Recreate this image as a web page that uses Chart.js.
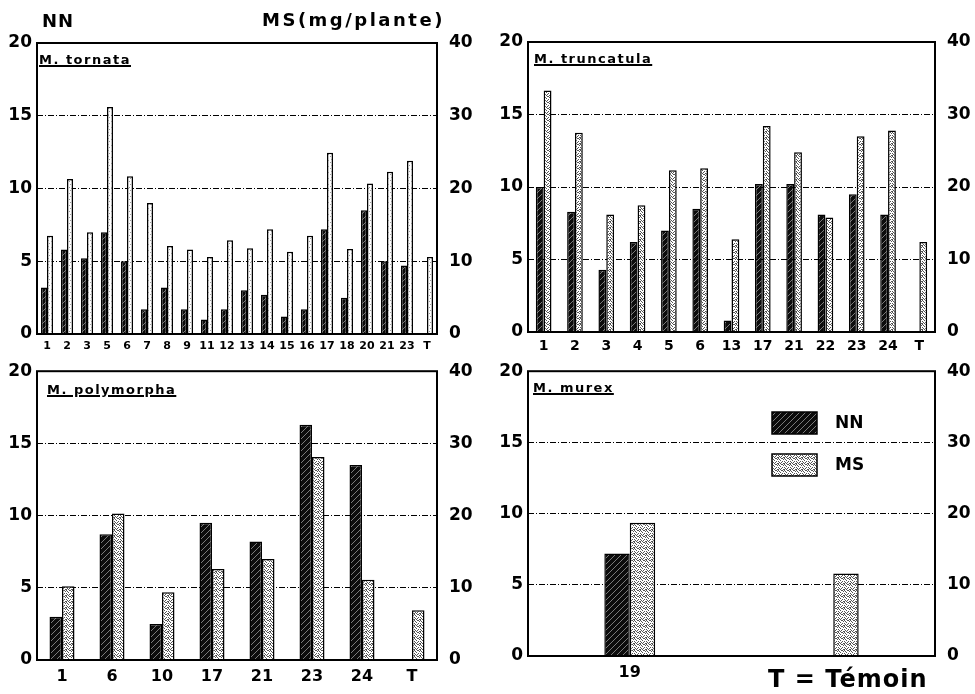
<!DOCTYPE html>
<html>
<head>
<meta charset="utf-8">
<script src="https://cdn.jsdelivr.net/npm/chart.js@4.4.0/dist/chart.umd.min.js"></script>
<style>
  body { margin: 0; background: #fff; width: 975px; height: 694px; position: relative; overflow: hidden; font-family: "DejaVu Sans", sans-serif; }
  canvas { position: absolute; }
  .txt { position: absolute; font-weight: bold; color: #000; white-space: nowrap; line-height: 1; }
  .sp { font-size: 13px; text-decoration: underline; letter-spacing: 1.5px; text-decoration-thickness: 2px; }
</style>
</head>
<body>
<canvas id="tornataChart" width="480" height="362" style="left:0;top:0"></canvas>
<canvas id="truncatulaChart" width="485" height="362" style="left:490px;top:0"></canvas>
<canvas id="polymorphaChart" width="480" height="338" style="left:0;top:356px"></canvas>
<canvas id="murexChart" width="485" height="338" style="left:490px;top:356px"></canvas>

<div class="txt" style="left:42px;top:12px;font-size:18px;letter-spacing:1px">NN</div>
<div class="txt" style="left:262px;top:11px;font-size:18px;letter-spacing:2.5px">MS(mg/plante)</div>
<div class="txt sp" style="left:39px;top:53px">M. tornata</div>
<div class="txt sp" style="left:534px;top:52px">M. truncatula</div>
<div class="txt sp" style="left:47px;top:383px">M. polymorpha</div>
<div class="txt sp" style="left:533px;top:381px">M. murex</div>
<div class="txt" style="left:768px;top:667px;font-size:24px;letter-spacing:1px">T = Témoin</div>

<script>
// NN on the left axis (0-20), MS in mg/plante on the right axis (0-40)
const tornataLabels = ['1', '2', '3', '5', '6', '7', '8', '9', '11', '12', '13', '14', '15', '16', '17', '18', '20', '21', '23', 'T'];
const tornataNN = [3.2, 5.8, 5.2, 7.0, 5.0, 1.7, 3.2, 1.7, 1.0, 1.7, 3.0, 2.7, 1.2, 1.7, 7.2, 2.5, 8.5, 5.0, 4.7, null];
const tornataMS = [13.5, 21.3, 14.0, 31.2, 21.7, 18.0, 12.1, 11.6, 10.6, 12.9, 11.8, 14.4, 11.3, 13.5, 24.9, 11.7, 20.7, 22.3, 23.8, 10.6];

const truncatulaLabels = ['1', '2', '3', '4', '5', '6', '13', '17', '21', '22', '23', '24', 'T'];
const truncatulaNN = [10.0, 8.3, 4.3, 6.2, 7.0, 8.5, 0.8, 10.2, 10.2, 8.1, 9.5, 8.1, null];
const truncatulaMS = [33.3, 27.5, 16.2, 17.5, 22.3, 22.6, 12.8, 28.4, 24.8, 15.8, 27.0, 27.8, 12.4];

const polymorphaLabels = ['1', '6', '10', '17', '21', '23', '24', 'T'];
const polymorphaNN = [3.0, 8.7, 2.5, 9.5, 8.2, 16.3, 13.5, null];
const polymorphaMS = [10.2, 20.3, 9.4, 12.6, 14.0, 28.1, 11.1, 6.9];

const murexLabels = ['19', 'T'];
const murexNN = [7.2, null];
const murexMS = [18.7, 11.6];

const FONT = '"DejaVu Sans", sans-serif';

function hatchPattern() {
    const c = document.createElement('canvas');
    c.width = 6; c.height = 6;
    const g = c.getContext('2d');
    g.fillStyle = '#0c0c0c';
    g.fillRect(0, 0, 6, 6);
    g.strokeStyle = '#7a7a7a';
    g.lineWidth = 1;
    g.beginPath();
    g.moveTo(0, 6); g.lineTo(6, 0);
    g.moveTo(-3, 3); g.lineTo(3, -3);
    g.moveTo(3, 9); g.lineTo(9, 3);
    g.stroke();
    return g.createPattern(c, 'repeat');
}

// stipple: scattered grey dots on white
function dotPattern(size, dot, spots) {
    const c = document.createElement('canvas');
    c.width = size; c.height = size;
    const g = c.getContext('2d');
    g.fillStyle = '#fff';
    g.fillRect(0, 0, size, size);
    g.fillStyle = dot;
    spots.forEach(p => g.fillRect(p[0], p[1], 1, 1));
    return g.createPattern(c, 'repeat');
}

const nnFill = hatchPattern();
const msFill = dotPattern(6, '#555', [[0, 0], [3, 0], [4, 0], [1, 1], [5, 1], [2, 2], [0, 3], [4, 3], [1, 4], [3, 4], [2, 5], [5, 5], [0, 5]]);
const msFillLight = dotPattern(6, '#9a9a9a', [[0, 0], [3, 1], [1, 3], [4, 4]]);

// frame around the plot area
const framePlugin = {
    id: 'frame',
    afterDraw(chart) {
        const a = chart.chartArea;
        const ctx = chart.ctx;
        ctx.save();
        ctx.strokeStyle = '#000';
        ctx.lineWidth = 2;
        ctx.strokeRect(a.left, a.top, a.right - a.left, a.bottom - a.top);
        ctx.restore();
    }
};

// legend boxes drawn inside the M. murex panel
const boxLegendPlugin = {
    id: 'boxLegend',
    afterDraw(chart) {
        if (!chart.options.plugins.boxLegend || !chart.options.plugins.boxLegend.show) return;
        const ctx = chart.ctx;
        const items = [['NN', nnFill, 56], ['MS', msFill, 98]];
        ctx.save();
        items.forEach(([name, fill, y]) => {
            ctx.fillStyle = fill;
            ctx.fillRect(282, y, 45, 22);
            ctx.strokeStyle = '#000';
            ctx.lineWidth = 1.5;
            ctx.strokeRect(282, y, 45, 22);
            ctx.fillStyle = '#000';
            ctx.font = 'bold 17px ' + FONT;
            ctx.textBaseline = 'middle';
            ctx.fillText(name, 345, y + 12);
        });
        ctx.restore();
    }
};

function makeChart(id, labels, nn, ms, cfg) {
    const el = document.getElementById(id);
    return new Chart(el, {
        type: 'bar',
        data: {
            labels: labels,
            datasets: [{
                label: 'NN',
                data: nn,
                yAxisID: 'y',
                backgroundColor: nnFill,
                borderColor: '#000',
                borderWidth: 1.5,
                categoryPercentage: cfg.catPct,
                barPercentage: 1.0
            }, {
                label: 'MS',
                data: ms,
                yAxisID: 'y1',
                backgroundColor: cfg.msFill || msFill,
                borderColor: '#000',
                borderWidth: 1.5,
                categoryPercentage: cfg.catPct,
                barPercentage: 1.0
            }]
        },
        options: {
            responsive: false,
            animation: false,
            devicePixelRatio: 1,
            layout: { padding: { top: cfg.top, left: 0, right: 0, bottom: 0 } },
            plugins: {
                legend: { display: false },
                tooltip: { enabled: false },
                boxLegend: { show: !!cfg.legend }
            },
            scales: {
                x: {
                    grid: { display: false, drawTicks: false },
                    border: { display: false },
                    ticks: {
                        color: '#000',
                        autoSkip: false,
                        maxRotation: 0,
                        padding: cfg.xPad,
                        font: { family: FONT, size: cfg.xSize, weight: 'bold' },
                        callback: (v, i) => (cfg.hideT && labels[i] === 'T') ? '' : labels[i]
                    },
                    afterFit: s => { s.height = cfg.xHeight; }
                },
                y: {
                    position: 'left',
                    min: 0, max: 20,
                    grid: {
                        drawTicks: false,
                        color: c => (c.tick.value === 0 || c.tick.value === 20) ? 'rgba(0,0,0,0)' : '#000',
                        lineWidth: 1
                    },
                    border: { display: false, dash: [6, 2, 1, 2] },
                    ticks: {
                        stepSize: 5,
                        color: '#000',
                        padding: 5,
                        font: { family: FONT, size: 17, weight: 'bold' }
                    },
                    afterFit: s => { s.width = cfg.left; }
                },
                y1: {
                    position: 'right',
                    min: 0, max: 40,
                    grid: { display: false, drawOnChartArea: false },
                    border: { display: false },
                    ticks: {
                        stepSize: 10,
                        color: '#000',
                        padding: 4,
                        font: { family: FONT, size: 17, weight: 'bold' }
                    },
                    afterFit: s => { s.width = cfg.right; }
                }
            }
        },
        plugins: [framePlugin, boxLegendPlugin]
    });
}

makeChart('tornataChart', tornataLabels, tornataNN, tornataMS,
    { catPct: 0.6, top: 43, left: 37, right: 43, xHeight: 28, xPad: 6, xSize: 11, msFill: msFillLight });
makeChart('truncatulaChart', truncatulaLabels, truncatulaNN, truncatulaMS,
    { catPct: 0.5, top: 42, left: 38, right: 40, xHeight: 30, xPad: 6, xSize: 14 });
makeChart('polymorphaChart', polymorphaLabels, polymorphaNN, polymorphaMS,
    { catPct: 0.5, top: 15, left: 37, right: 43, xHeight: 34, xPad: 7, xSize: 16 });
makeChart('murexChart', murexLabels, murexNN, murexMS,
    { catPct: 0.25, top: 15, left: 38, right: 40, xHeight: 38, xPad: 7, xSize: 16, hideT: true, legend: true });
</script>
</body>
</html>
